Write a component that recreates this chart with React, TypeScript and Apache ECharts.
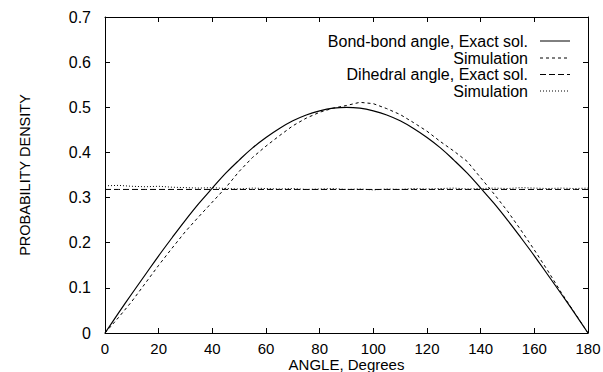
import React, { useEffect, useRef } from "react";
import * as echarts from "echarts";

const angles: number[] = [
  0, 5, 10, 15, 20, 25, 30, 35, 40, 45, 50, 55, 60, 65, 70, 75, 80, 85, 90,
  95, 100, 105, 110, 115, 120, 125, 130, 135, 140, 145, 150, 155, 160, 165, 170, 175, 180,
];

const bondExact: number[] = [
  0, 0.044, 0.087, 0.129, 0.171, 0.211, 0.25, 0.287, 0.321, 0.354, 0.383, 0.41, 0.433,
  0.453, 0.47, 0.483, 0.492, 0.498, 0.5, 0.498, 0.492, 0.483, 0.47, 0.453, 0.433, 0.41,
  0.383, 0.354, 0.321, 0.287, 0.25, 0.211, 0.171, 0.129, 0.087, 0.044, 0,
];

const bondSim: number[] = [
  0, 0.034, 0.07, 0.11, 0.15, 0.188, 0.225, 0.258, 0.29, 0.322, 0.358, 0.389, 0.414,
  0.437, 0.459, 0.476, 0.489, 0.498, 0.504, 0.511, 0.508, 0.497, 0.484, 0.466, 0.447,
  0.424, 0.403, 0.38, 0.344, 0.308, 0.27, 0.228, 0.184, 0.138, 0.09, 0.045, 0,
];

const dihedralExact: number[] = angles.map(() => 0.318);

const dihedralSim: number[] = [
  0.326, 0.327, 0.325, 0.324, 0.325, 0.323, 0.322, 0.321, 0.322, 0.32, 0.319, 0.321,
  0.32, 0.319, 0.32, 0.318, 0.319, 0.32, 0.318, 0.319, 0.317, 0.319, 0.318, 0.32, 0.319,
  0.32, 0.321, 0.319, 0.32, 0.321, 0.32, 0.322, 0.321, 0.32, 0.321, 0.32, 0.321,
];

const legendNames: string[] = [
  "Bond-bond angle, Exact sol.",
  "Simulation",
  "Dihedral angle, Exact sol.",
  "Simulation",
];

const FONT = "'Liberation Sans', Arial, Helvetica, sans-serif";

const lineTypes: any[] = ["solid", [3, 3], [6, 3], [1, 2]];

export default function App() {
  const ref = useRef<HTMLDivElement>(null);
  useEffect(() => {
    if (!ref.current) return;
    const chart = echarts.init(ref.current, undefined, { renderer: "svg" });
    const pairs = (ys: number[]) => angles.map((a, i) => [a, ys[i]]);
    const allSeries = [bondExact, bondSim, dihedralExact, dihedralSim];

    const legendY = [41, 58, 74.5, 91];
    const graphics: any[] = [];
    legendNames.forEach((name, i) => {
      graphics.push({
        type: "text",
        x: 528,
        y: legendY[i],
        style: {
          text: name,
          fill: "#000",
          font: `16px ${FONT}`,
          textAlign: "right",
          textVerticalAlign: "middle",
        },
      });
      graphics.push({
        type: "line",
        shape: { x1: 540, y1: legendY[i], x2: 570, y2: legendY[i] },
        style: {
          stroke: "#000",
          lineWidth: 1,
          lineDash: lineTypes[i] === "solid" ? null : lineTypes[i],
        },
      });
    });

    const axisCommon = {
      axisLine: { show: true, onZero: false, lineStyle: { color: "#000", width: 1 } },
      splitLine: { show: false },
    };

    chart.setOption({
      animation: false,
      backgroundColor: "#fff",
      grid: {
        left: 105,
        right: 15,
        top: 17,
        bottom: 39,
        containLabel: false,
        outerBoundsMode: "none",
      },
      xAxis: [
        {
          type: "value",
          min: 0,
          max: 180,
          interval: 20,
          position: "bottom",
          name: "ANGLE, Degrees",
          nameLocation: "middle",
          nameGap: 24,
          nameMoveOverlap: false,
          nameTextStyle: { color: "#000", fontSize: 15, fontFamily: FONT },
          axisTick: { inside: true, length: 5, lineStyle: { color: "#000" } },
          axisLabel: { color: "#000", fontSize: 15, fontFamily: FONT, margin: 8 },
          ...axisCommon,
        },
        {
          type: "value",
          min: 0,
          max: 180,
          interval: 20,
          position: "top",
          axisTick: { inside: true, length: 5, lineStyle: { color: "#000" } },
          axisLabel: { show: false },
          ...axisCommon,
        },
      ],
      yAxis: [
        {
          type: "value",
          min: 0,
          max: 0.7,
          interval: 0.1,
          position: "left",
          name: "PROBABILITY DENSITY",
          nameLocation: "middle",
          nameGap: 73,
          nameMoveOverlap: false,
          nameTextStyle: { color: "#000", fontSize: 14.5, fontFamily: FONT },
          axisTick: { inside: true, length: 5, lineStyle: { color: "#000" } },
          axisLabel: { color: "#000", fontSize: 16, fontFamily: FONT, margin: 14 },
          ...axisCommon,
        },
        {
          type: "value",
          min: 0,
          max: 0.7,
          interval: 0.1,
          position: "right",
          axisTick: { inside: true, length: 5, lineStyle: { color: "#000" } },
          axisLabel: { show: false },
          ...axisCommon,
        },
      ],
      series: allSeries.map((ys, i) => ({
        type: "line",
        name: legendNames[i],
        xAxisIndex: 0,
        yAxisIndex: 0,
        data: pairs(ys),
        showSymbol: false,
        smooth: i === 0 ? 0.4 : false,
        lineStyle: { color: "#000", width: i === 0 ? 1.2 : 1, type: lineTypes[i] },
      })),
      graphic: graphics,
    });
    return () => chart.dispose();
  }, []);
  return (
    <div
      ref={ref}
      style={{ position: "fixed", left: 0, top: 0, width: 603, height: 372 }}
    />
  );
}
